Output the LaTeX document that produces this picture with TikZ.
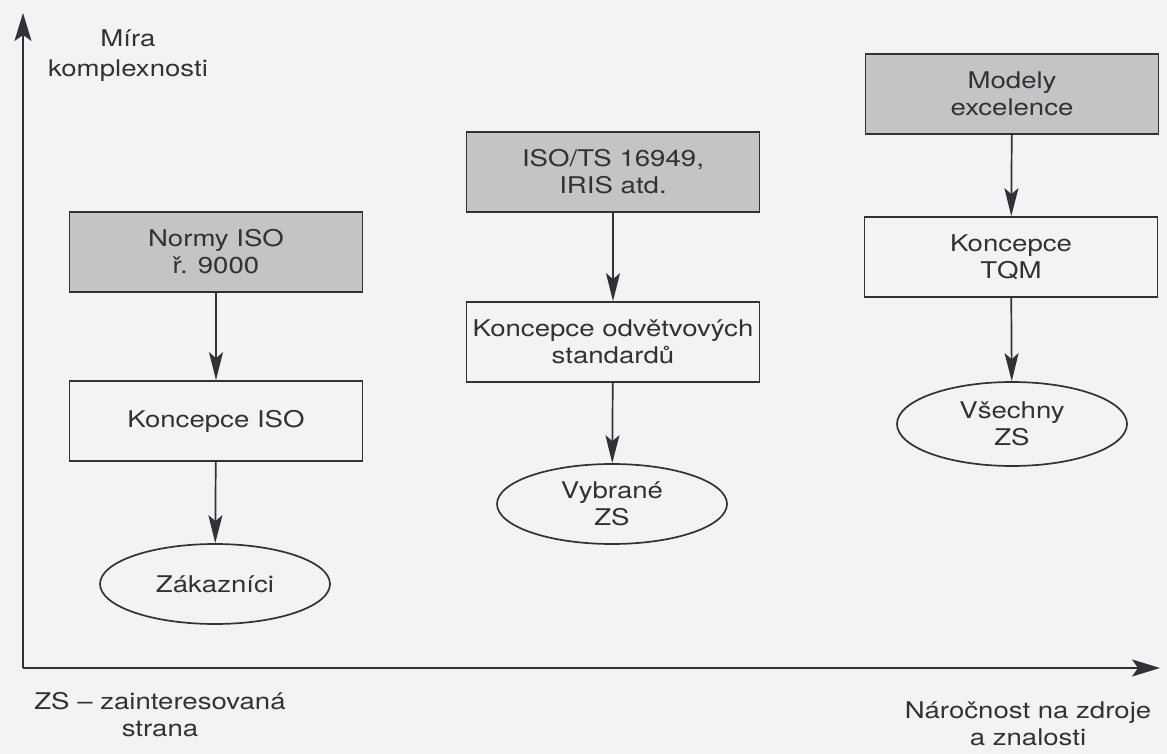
\documentclass[tikz,border=0pt]{standalone}
\usepackage{fontspec}
\setmainfont[FakeStretch=1.2]{TeX Gyre Heros}
\usepackage{tikz}
\usetikzlibrary{arrows.meta, shapes.geometric}
\definecolor{ink}{RGB}{50,50,54}
\definecolor{paper}{RGB}{243,243,246}
\definecolor{shade}{RGB}{196,196,199}
\tikzset{>={Stealth[length=14pt,width=7pt,inset=3pt]}}

\begin{document}
\begin{tikzpicture}[x=0.5pt, y=-0.5pt, color=ink, line width=0.85pt,
    font=\fontsize{11.5}{13.5}\selectfont,
    box/.style={draw, align=center, inner sep=2pt, minimum width=146.5pt, minimum height=40pt},
    normbox/.style={box, fill=shade},
    zsell/.style={ellipse, draw, align=center, inner sep=1pt, minimum width=115pt, minimum height=40pt},
    lbl/.style={align=center}]
    \useasboundingbox[fill=paper] (0,0) rectangle (1167,754);
    % osy
    \coordinate (o) at (23,668);
    \coordinate (ytop) at (23,13);
    \coordinate (xend) at (1160,668);
    \draw[-{Stealth[length=14pt,width=8.5pt,inset=3pt]}] (o) -- (ytop);
    \draw[-{Stealth[length=14pt,width=8.5pt,inset=3pt]}] (o) -- (xend);
    \node[lbl, font=\fontsize{11.5}{15}\selectfont] (mira) at (128,56) {Míra\\komplexnosti};
    \node[lbl] (zsnote) at (160,715) {ZS -- zainteresovaná\\strana};
    \node[lbl] (naroc) at (1028,724) {Náročnost na zdroje\\a znalosti};
    % ISO
    \node[normbox] (iso9000) at (216,252) {Normy ISO\\ř. 9000};
    \node[box] (kiso) at (216,421) {Koncepce ISO};
    \node[zsell] (zakaz) at (215,584) {Zákazníci};
    % odvetvove standardy
    \node[normbox] (isots) at (613,172) {ISO/TS 16949,\\IRIS atd.};
    \node[box] (kodv) at (613,342) {Koncepce odvětvových\\standardů};
    \node[zsell] (vybr) at (612,504) {Vybrané\\ZS};
    % TQM
    \node[normbox] (model) at (1012,94) {Modely\\excelence};
    \node[box] (ktqm) at (1011,257) {Koncepce\\TQM};
    \node[zsell, minimum height=42pt] (vsech) at (1012,424) {Všechny\\ZS};
    \draw[->] (iso9000) -- (kiso);
    \draw[->] (kiso) -- (zakaz);
    \draw[->] (isots) -- (kodv);
    \draw[->] (kodv) -- (vybr);
    \draw[->] (model) -- (ktqm);
    \draw[->] (ktqm) -- (vsech);
\end{tikzpicture}
\end{document}
